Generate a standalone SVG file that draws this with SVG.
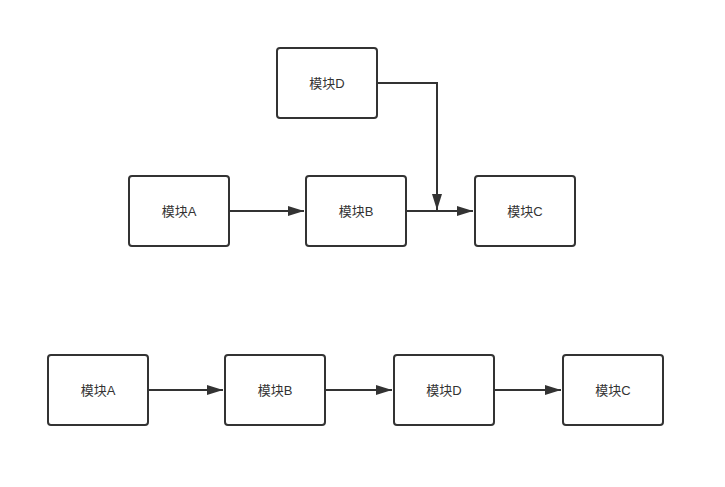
<svg xmlns="http://www.w3.org/2000/svg" width="725" height="487" viewBox="0 0 725 487">
<style>
.box{fill:#fff;stroke:#333;stroke-width:2}
.lbl{font-family:"Liberation Sans","Noto Sans CJK SC",sans-serif;font-size:13px;fill:#333;text-anchor:middle;dominant-baseline:central}
.edge{fill:none;stroke:#333;stroke-width:2}
</style>
<defs>
<marker id="ah" viewBox="0 0 16 10" refX="16" refY="5" markerWidth="16" markerHeight="10" markerUnits="userSpaceOnUse" orient="auto">
<path d="M0,0 L16,5 L0,10 Z" fill="#333"/>
</marker>
</defs>
<rect width="725" height="487" fill="#fff"/>
<g id="connectors">
<path class="edge" d="M229,211 H304" marker-end="url(#ah)"/>
<path class="edge" d="M406,211 H473" marker-end="url(#ah)"/>
<path class="edge" d="M377,83 H437 V210" marker-end="url(#ah)"/>
<path class="edge" d="M148,390 H223" marker-end="url(#ah)"/>
<path class="edge" d="M325,390 H392" marker-end="url(#ah)"/>
<path class="edge" d="M494,390 H561" marker-end="url(#ah)"/>
</g>
<g id="top-D"><rect class="box" x="277" y="48" width="100" height="70" rx="3"/><text class="lbl" x="327" y="83">模块D</text></g>
<g id="top-A"><rect class="box" x="129" y="176" width="100" height="70" rx="3"/><text class="lbl" x="179" y="211">模块A</text></g>
<g id="top-B"><rect class="box" x="306" y="176" width="100" height="70" rx="3"/><text class="lbl" x="356" y="211">模块B</text></g>
<g id="top-C"><rect class="box" x="475" y="176" width="100" height="70" rx="3"/><text class="lbl" x="525" y="211">模块C</text></g>
<g id="bot-A"><rect class="box" x="48" y="355" width="100" height="70" rx="3"/><text class="lbl" x="98" y="390">模块A</text></g>
<g id="bot-B"><rect class="box" x="225" y="355" width="100" height="70" rx="3"/><text class="lbl" x="275" y="390">模块B</text></g>
<g id="bot-D"><rect class="box" x="394" y="355" width="100" height="70" rx="3"/><text class="lbl" x="444" y="390">模块D</text></g>
<g id="bot-C"><rect class="box" x="563" y="355" width="100" height="70" rx="3"/><text class="lbl" x="613" y="390">模块C</text></g>
</svg>
